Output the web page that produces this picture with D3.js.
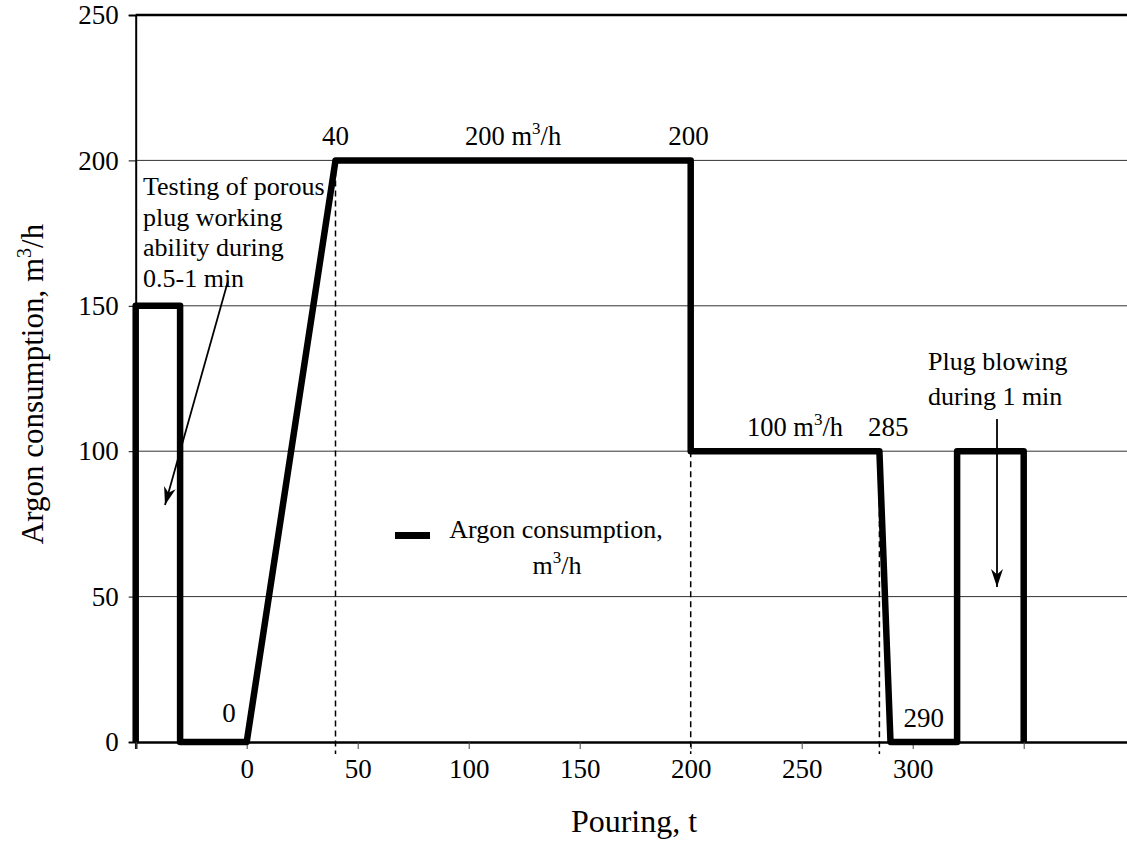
<!DOCTYPE html>
<html><head><meta charset="utf-8">
<script src="https://cdn.jsdelivr.net/npm/d3@7"></script>
<style>body{margin:0;background:#fff}svg{display:block}text{font-family:"Liberation Serif","Times New Roman",serif;fill:#000}</style>
</head><body>
<svg id="c" width="1127" height="842"></svg>
<script>
// Data
const pourT = [-50, -50, -30, -30, 0, 40, 200, 200, 285, 290, 320, 320, 350, 350];
const argonFlow = [0, 150, 150, 0, 0, 200, 200, 100, 100, 0, 0, 100, 100, 0];
const xTicks = [-50, 0, 50, 100, 150, 200, 250, 300, 350];
const xTickLabels = ["", "0", "50", "100", "150", "200", "250", "300", ""];
const yTicks = [0, 50, 100, 150, 200, 250];
const markerT = [40, 200, 285];
const markerTop = [200, 100, 100];
const pointLabels = [
  {t: -8, v: 0, text: "0", dy: -20},
  {t: 40, v: 200, text: "40", dy: -15},
  {t: 199, v: 200, text: "200", dy: -15},
  {t: 289, v: 100, text: "285", dy: -15},
  {t: 305, v: 0, text: "290", dy: -15}
];
const rateLabels = [
  {t: 120, v: 200, text: "200 m", sup: "3", tail: "/h"},
  {t: 247, v: 100, text: "100 m", sup: "3", tail: "/h"}
];

const svg = d3.select("#c");
const x = d3.scaleLinear().domain([-50, 400]).range([135.7, 1134.7]);
const y = d3.scaleLinear().domain([0, 250]).range([742, 15]);

// gridlines
svg.append("g").selectAll("line").data(yTicks.filter(d => d > 0 && d < 250)).join("line")
  .attr("x1", x(-50)).attr("x2", 1127).attr("y1", d => y(d)).attr("y2", d => y(d))
  .attr("stroke", "#333").attr("stroke-width", 1);
// top border
svg.append("line").attr("x1", x(-50)).attr("x2", 1127).attr("y1", y(250)).attr("y2", y(250))
  .attr("stroke", "#000").attr("stroke-width", 2.5);

// y axis
const yAxis = svg.append("g").attr("transform", `translate(${x(-50)},0)`)
  .call(d3.axisLeft(y).tickValues(yTicks).tickSize(7).tickPadding(10));
yAxis.select(".domain").attr("stroke", "#000").attr("stroke-width", 2);
yAxis.selectAll(".tick line").attr("stroke", "#000");
yAxis.selectAll("text").attr("font-size", 27).attr("font-family", "Liberation Serif");

// x axis
const xAxis = svg.append("g").attr("transform", `translate(0,${y(0)})`)
  .call(d3.axisBottom(x).tickValues(xTicks).tickFormat((d, i) => xTickLabels[i]).tickSize(7).tickPadding(10));
xAxis.select(".domain").attr("stroke", "#000").attr("stroke-width", 2.5);
xAxis.selectAll(".tick line").attr("stroke", "#444");
xAxis.selectAll("text").attr("font-size", 27).attr("font-family", "Liberation Serif");

// dashed marker lines
svg.append("g").selectAll("line").data(markerT).join("line")
  .attr("x1", d => x(d)).attr("x2", d => x(d))
  .attr("y1", (d, i) => y(markerTop[i])).attr("y2", y(0) + 12)
  .attr("stroke", "#000").attr("stroke-width", 1.5).attr("stroke-dasharray", "6,4");

// main line
const pts = pourT.map((t, i) => [t, argonFlow[i]]);
svg.append("path").datum(pts)
  .attr("d", d3.line().x(d => x(d[0])).y(d => y(d[1])))
  .attr("fill", "none").attr("stroke", "#000").attr("stroke-width", 6.5)
  .attr("stroke-linejoin", "round");

// point labels
svg.append("g").selectAll("text").data(pointLabels).join("text")
  .attr("x", d => x(d.t)).attr("y", d => y(d.v) + d.dy)
  .attr("text-anchor", "middle").attr("font-size", 27).text(d => d.text);

// rate labels with superscript
rateLabels.forEach(d => {
  const t = svg.append("text").attr("x", x(d.t)).attr("y", y(d.v) - 15)
    .attr("text-anchor", "middle").attr("font-size", 26.5);
  t.append("tspan").text(d.text);
  t.append("tspan").attr("dy", -11).attr("font-size", 17).text(d.sup);
  t.append("tspan").attr("dy", 11).text(d.tail);
});

// annotation 1
const ann1 = ["Testing of porous", "plug working", "ability during", "0.5-1 min"];
svg.append("g").selectAll("text").data(ann1).join("text")
  .attr("x", 143).attr("y", (d, i) => 195 + i * 30.7).attr("font-size", 26).text(d => d);
// annotation 2
const ann2 = ["Plug blowing", "during 1 min"];
svg.append("g").selectAll("text").data(ann2).join("text")
  .attr("x", 928).attr("y", (d, i) => 370 + i * 35).attr("font-size", 26).text(d => d);

// arrows
const defs = svg.append("defs");
defs.append("marker").attr("id", "ah").attr("viewBox", "0 0 10 10").attr("refX", 10).attr("refY", 5)
  .attr("markerWidth", 18).attr("markerHeight", 12).attr("orient", "auto")
  .attr("markerUnits", "userSpaceOnUse").attr("preserveAspectRatio", "none")
  .append("path").attr("d", "M0,0 L10,5 L0,10 L3,5 Z").attr("fill", "#000");
svg.append("line").attr("x1", 228).attr("y1", 281).attr("x2", 165).attr("y2", 505)
  .attr("stroke", "#000").attr("stroke-width", 1.8).attr("marker-end", "url(#ah)");
svg.append("line").attr("x1", 997).attr("y1", 419).attr("x2", 997).attr("y2", 587)
  .attr("stroke", "#000").attr("stroke-width", 1.8).attr("marker-end", "url(#ah)");

// legend
svg.append("rect").attr("x", 395).attr("y", 532).attr("width", 35).attr("height", 7).attr("fill", "#000");
svg.append("text").attr("x", 556).attr("y", 538).attr("text-anchor", "middle").attr("font-size", 26).text("Argon consumption,");
const lg2 = svg.append("text").attr("x", 557).attr("y", 574).attr("text-anchor", "middle").attr("font-size", 26);
lg2.append("tspan").text("m");
lg2.append("tspan").attr("dy", -11).attr("font-size", 17).text("3");
lg2.append("tspan").attr("dy", 11).text("/h");

// axis titles
const yt = svg.append("text").attr("transform", "translate(43,384) rotate(-90)")
  .attr("text-anchor", "middle").attr("font-size", 31);
yt.append("tspan").text("Argon consumption, m");
yt.append("tspan").attr("dy", -12).attr("font-size", 20).text("3");
yt.append("tspan").attr("dy", 12).text("/h");
svg.append("text").attr("x", 634).attr("y", 832).attr("text-anchor", "middle").attr("font-size", 32).text("Pouring, t");
</script>
</body></html>
